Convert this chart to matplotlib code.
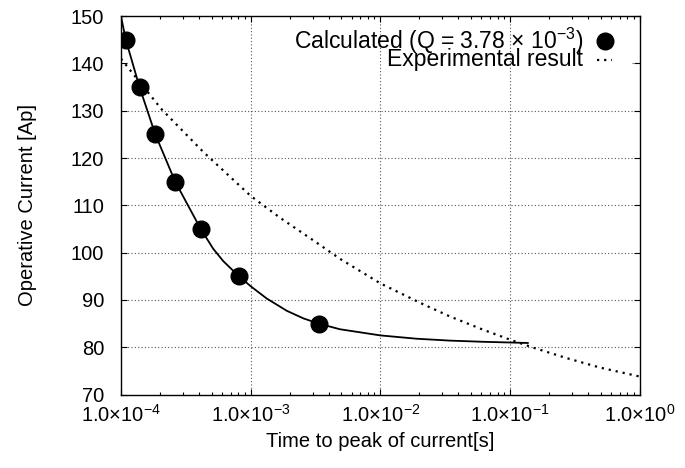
import matplotlib
matplotlib.use("Agg")
import matplotlib.pyplot as plt
from matplotlib.lines import Line2D
from matplotlib.ticker import LogLocator, FixedLocator, NullFormatter

plt.rcParams['font.family'] = ['Liberation Sans', 'DejaVu Sans']
plt.rcParams['mathtext.fontset'] = 'custom'
plt.rcParams['mathtext.rm'] = 'Liberation Sans'
plt.rcParams['mathtext.it'] = 'Liberation Sans:italic'
plt.rcParams['mathtext.bf'] = 'Liberation Sans:bold'

# Calculated operating points (Q = 3.78e-3)
calc_time = [1.09e-4, 1.39e-4, 1.84e-4, 2.62e-4, 4.12e-4, 8.12e-4, 3.34e-3]
calc_current = [145, 135, 125, 115, 105, 95, 85]

# Calculated characteristic curve
curve_time = [1.0e-4, 1.09e-4, 1.39e-4, 1.84e-4, 2.62e-4, 4.12e-4, 5.15e-4,
              6.15e-4, 8.12e-4, 1.0e-3, 1.33e-3, 1.90e-3, 2.55e-3, 3.34e-3,
              4.88e-3, 1.0e-2, 1.9e-2, 3.44e-2, 6.2e-2, 1.0e-1, 1.37e-1]
curve_current = [150, 145, 135, 125, 115, 105, 100.8,
                 98.2, 95, 92.9, 90.3, 87.7, 86.1, 85,
                 83.8, 82.5, 81.8, 81.4, 81.15, 81.0, 80.9]

# Experimental characteristic
exp_time = [1.0e-4, 2.06e-4, 4.31e-4, 1.0e-3, 1.68e-3, 3.04e-3, 4.88e-3,
            1.0e-2, 1.46e-2, 2.02e-2, 3.44e-2, 6.2e-2, 1.0e-1, 1.51e-1,
            2.73e-1, 4.93e-1, 1.0]
exp_current = [141, 130.3, 121.3, 112, 107.4, 102.6, 98.7,
               93.5, 91.3, 89.4, 86.5, 83.7, 81.6, 79.9,
               77.7, 75.7, 73.8]

key_labels = [r'Calculated (Q = 3.78 $\times$ 10$^{-3}$)', 'Experimental result']

x_ticks = [1e-4, 1e-3, 1e-2, 1e-1, 1e0]
x_tick_labels = [r'$1.0{\times}10^{-4}$', r'$1.0{\times}10^{-3}$',
                 r'$1.0{\times}10^{-2}$', r'$1.0{\times}10^{-1}$',
                 r'$1.0{\times}10^{0}$']
y_ticks = [70, 80, 90, 100, 110, 120, 130, 140, 150]

FS = 14.5
KEY_FS = 16.5

fig = plt.figure(figsize=(6.85, 4.68), dpi=100)
ax = fig.add_axes([0.1766, 0.157, 0.7574, 0.8084])

ax.set_xscale('log')
ax.set_xlim(1e-4, 1e0)
ax.set_ylim(70, 150)

grid_style = dict(color='#555555', linestyle=(0, (1, 2)), linewidth=0.8, zorder=1)
for xt in x_ticks[1:-1]:
    ax.axvline(xt, **grid_style)
for yt in y_ticks[1:-1]:
    if yt == 140:
        ax.axhline(yt, xmin=0.985, xmax=1.0, **grid_style)
    else:
        ax.axhline(yt, **grid_style)

ax.plot(exp_time, exp_current, color='black', linestyle=(0, (1, 2.2)),
        linewidth=1.6, zorder=2)
ax.plot(curve_time, curve_current, color='black', linewidth=1.3, zorder=3,
        solid_joinstyle='round')
ax.plot(calc_time, calc_current, 'o', color='black', markersize=12, zorder=4)

ax.xaxis.set_major_locator(FixedLocator(x_ticks))
ax.set_xticklabels(x_tick_labels)
ax.xaxis.set_minor_locator(LogLocator(base=10, subs=range(2, 10)))
ax.xaxis.set_minor_formatter(NullFormatter())
ax.set_yticks(y_ticks)

ax.tick_params(which='both', direction='in', top=True, right=True,
               labelsize=FS, colors='black')
ax.tick_params(which='major', length=4, width=0.8)
ax.tick_params(which='minor', length=2.5, width=0.8)
ax.tick_params(axis='x', pad=6.5)
ax.tick_params(axis='y', pad=12)
for s in ax.spines.values():
    s.set_linewidth(1.0)

ax.set_xlabel('Time to peak of current[s]', fontsize=FS, labelpad=5)
ax.set_ylabel('Operative Current [Ap]', fontsize=FS, labelpad=24)

# Key: right-aligned two-line text with its samples on the right
ax.text(0.890, 0.8695, '\n'.join(key_labels), transform=ax.transAxes,
        ha='right', va='baseline', multialignment='right',
        linespacing=0.55, fontsize=KEY_FS)
ax.add_line(Line2D([0.9326], [0.934], transform=ax.transAxes, marker='o',
                   color='black', markersize=12, linestyle='none'))
ax.add_line(Line2D([0.917, 0.946], [0.884, 0.884], transform=ax.transAxes,
                   color='black', linestyle=(0, (1, 2.2)), linewidth=1.6))

fig.savefig('out.png', dpi=100)
